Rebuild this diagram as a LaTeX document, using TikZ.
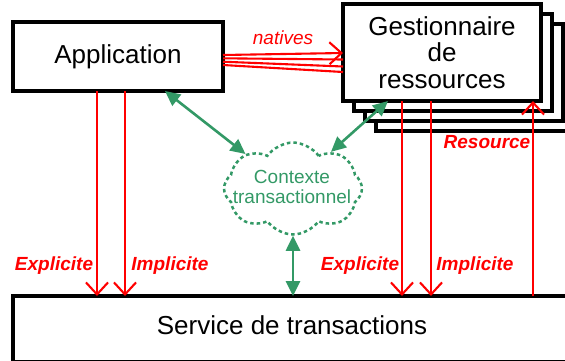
\documentclass[tikz,border=0pt]{standalone}
\usepackage{fontspec}
\setmainfont{Liberation Sans}
\usetikzlibrary{shapes.symbols,arrows.meta}
\definecolor{tgreen}{RGB}{51,153,102}
\begin{document}
\begin{tikzpicture}[x=1pt,y=-1pt,
  box/.style={draw=black,line width=3.5pt,fill=white,outer sep=0pt,inner sep=0pt},
  bigtext/.style={font=\fontsize{26}{26.5}\selectfont,align=center},
  rlab/.style={text=red,font=\fontsize{19}{22}\selectfont\bfseries\itshape,inner sep=0pt},
  rline/.style={draw=red,line width=2.1pt},
  rarrow/.style={rline,-{Straight Barb[length=12pt,width=22pt]}},
  garrow/.style={draw=tgreen,line width=2.6pt,{Triangle[length=15pt,width=14pt]}-{Triangle[length=15pt,width=14pt]}}]
\useasboundingbox (0,0) rectangle (565,360);
\begin{scope}
\clip (0,0) rectangle (565,360);
% Service box
\node[box,minimum width=570pt,minimum height=66pt,anchor=north west] (svc) at (13,296) {};
\node[bigtext] (svctxt) at (292,325) {Service de transactions};
% Application
\node[box,bigtext,minimum width=210pt,minimum height=69pt] (app) at (118,56.5) {Application};
% Gestionnaire stack
\node[box,minimum width=198pt,minimum height=97pt] (g4) at (475,82.5) {};
\node[box,minimum width=198pt,minimum height=97pt] (g3) at (464,72.5) {};
\node[box,minimum width=198pt,minimum height=97pt] (g2) at (453,62.5) {};
\node[box,bigtext,minimum width=198pt,minimum height=97pt] (g1) at (442,52.5) {Gestionnaire\\de\\ressources};
\end{scope}
% Cloud
\node[cloud,draw=tgreen,line width=2.5pt,dash pattern=on 3.5pt off 3pt,cloud puffs=8,cloud puff arc=110,cloud ignores aspect,
  minimum width=138pt,minimum height=92pt,inner sep=0pt] (ctx) at (293,188.5) {};
\node[text=tgreen,font=\fontsize{19}{20}\selectfont,align=center,inner sep=0pt] (ctxtxt) at (292,187) {Contexte\\transactionnel};
% natives
\coordinate (n1s) at (223,55); \coordinate (n1e) at (343,53);
\coordinate (n2s) at (223,58.3); \coordinate (n2e) at (343,59.5);
\coordinate (n3s) at (223,61.7); \coordinate (n3e) at (343,66.5);
\coordinate (n4s) at (223,65); \coordinate (n4e) at (343,72);
\draw[rarrow] (n1s) -- (n1e);
\draw[rline] (n2s) -- (n2e);
\draw[rline] (n3s) -- (n3e);
\draw[rline] (n4s) -- (n4e);
\node[text=red,font=\fontsize{19}{22}\selectfont\itshape,inner sep=0pt] (nat) at (283,38) {natives};
% red verticals
\draw[rarrow] (97,0 |- app.south) -- (97,0 |- svc.north);
\draw[rarrow] (125,0 |- app.south) -- (125,0 |- svc.north);
\draw[rarrow] (402,0 |- g1.south) -- (402,0 |- svc.north);
\draw[rarrow] (431,0 |- g1.south) -- (431,0 |- svc.north);
\draw[rarrow] (533,0 |- svc.north) -- (533,0 |- g1.south);
% labels
\node[rlab] (e1) at (54,266) {Explicite};
\node[rlab] (i1) at (170,266) {Implicite};
\node[rlab] (e2) at (360,266) {Explicite};
\node[rlab] (i2) at (475,266) {Implicite};
\node[rlab] (res) at (487,142) {Resource};
% green arrows
\draw[garrow] (165,0 |- app.south) -- (ctx.144);
\draw[garrow] (388,0 |- g1.south) -- (ctx.44);
\draw[garrow] (ctx.south) -- (ctx.south |- svc.north);
\end{tikzpicture}
\end{document}
